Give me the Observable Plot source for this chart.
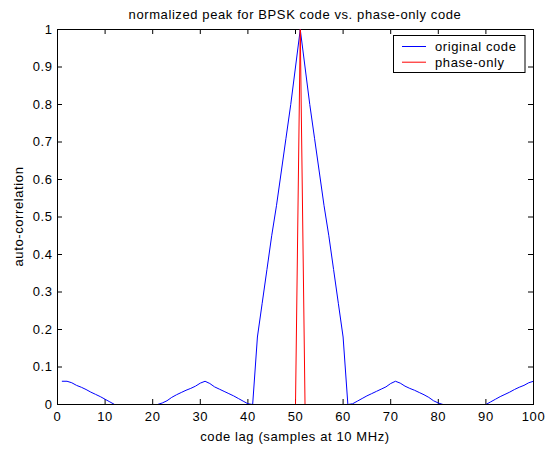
<!DOCTYPE html>
<html>
<head>
<meta charset="utf-8">
<script src="https://cdn.jsdelivr.net/npm/d3@7"></script>
<script src="https://cdn.jsdelivr.net/npm/@observablehq/plot@0.6"></script>
<style>
  html, body { margin: 0; padding: 0; background: #fff; }
  svg { display: block; }
</style>
</head>
<body>
<div id="chart"></div>
<script>
// ---- data ----
const lags = [
  1, 2, 3, 4, 5, 6, 7, 8, 9, 10,
  11, 12, 13, 14, 15, 16, 17, 18, 19, 20,
  21, 22, 23, 24, 25, 26, 27, 28, 29, 30,
  31, 32, 33, 34, 35, 36, 37, 38, 39, 40,
  41, 42, 43, 44, 45, 46, 47, 48, 49, 50,
  51, 52, 53, 54, 55, 56, 57, 58, 59, 60,
  61, 62, 63, 64, 65, 66, 67, 68, 69, 70,
  71, 72, 73, 74, 75, 76, 77, 78, 79, 80,
  81, 82, 83, 84, 85, 86, 87, 88, 89, 90,
  91, 92, 93, 94, 95, 96, 97, 98, 99, 100,
  101
];
const originalCode = [
  0.062, 0.062, 0.058, 0.051, 0.046, 0.040, 0.033, 0.027, 0.021, 0.014,
  0.007, 0, 0, 0, 0, 0, 0, 0, 0, 0,
  0, 0.004, 0.010, 0.019, 0.026, 0.032, 0.038, 0.043, 0.049, 0.057,
  0.062, 0.056, 0.047, 0.041, 0.035, 0.029, 0.023, 0.016, 0.009, 0.002,
  0, 0.18, 0.27, 0.36, 0.45, 0.53, 0.62, 0.71, 0.80, 0.90,
  1.00, 0.90, 0.80, 0.71, 0.62, 0.53, 0.45, 0.36, 0.27, 0.18,
  0, 0.002, 0.009, 0.016, 0.023, 0.029, 0.035, 0.041, 0.047, 0.056,
  0.062, 0.057, 0.049, 0.043, 0.038, 0.032, 0.026, 0.019, 0.010, 0.004,
  0, 0, 0, 0, 0, 0, 0, 0, 0, 0,
  0.007, 0.014, 0.021, 0.027, 0.033, 0.040, 0.046, 0.051, 0.058, 0.062,
  0.062
];
const phaseOnly = [
  0, 0, 0, 0, 0, 0, 0, 0, 0, 0,
  0, 0, 0, 0, 0, 0, 0, 0, 0, 0,
  0, 0, 0, 0, 0, 0, 0, 0, 0, 0,
  0, 0, 0, 0, 0, 0, 0, 0, 0, 0,
  0, 0, 0, 0, 0, 0, 0, 0, 0, 0,
  1, 0, 0, 0, 0, 0, 0, 0, 0, 0,
  0, 0, 0, 0, 0, 0, 0, 0, 0, 0,
  0, 0, 0, 0, 0, 0, 0, 0, 0, 0,
  0, 0, 0, 0, 0, 0, 0, 0, 0, 0,
  0, 0, 0, 0, 0, 0, 0, 0, 0, 0,
  0
];
const seriesNames = ["original code", "phase-only"];
const seriesColors = ["#0000ff", "#ff0000"];
const xTicks = [0, 10, 20, 30, 40, 50, 60, 70, 80, 90, 100];
const xTickLabels = ["0", "10", "20", "30", "40", "50", "60", "70", "80", "90", "100"];
const yTicks = [0, 0.1, 0.2, 0.3, 0.4, 0.5, 0.6, 0.7, 0.8, 0.9, 1];
const yTickLabels = ["0", "0.1", "0.2", "0.3", "0.4", "0.5", "0.6", "0.7", "0.8", "0.9", "1"];
const titleText = "normalized peak for BPSK code vs. phase-only code";
const xLabelText = "code lag (samples at 10 MHz)";
const yLabelText = "auto-correlation";

// ---- layout ----
const W = 548, H = 449;
const mL = 57, mR = 15, mT = 29, mB = 45;
const fw = W - mL - mR, fh = H - mT - mB;
const tickLen = 5;
const FONT = "'Liberation Sans', Arial, Helvetica, sans-serif";
const FS = "13px";
const LS = "0.6px";

const rows = lags.map((x, i) => ({x, orig: originalCode[i], phase: phaseOnly[i]}));

const chart = Plot.plot({
  width: W,
  height: H,
  marginLeft: mL,
  marginRight: mR,
  marginTop: mT,
  marginBottom: mB,
  style: {fontFamily: FONT, fontSize: FS, letterSpacing: LS, color: "#000", background: "#fff", overflow: "visible"},
  x: {domain: [0, 100], label: null},
  y: {domain: [0, 1], label: null},
  marks: [
    Plot.axisX(xTicks, {tickSize: 0, tickPadding: 7.5, tickFormat: (d) => xTickLabels[xTicks.indexOf(d)], fontSize: 13}),
    Plot.axisY(yTicks, {tickSize: 0, tickPadding: 5, tickFormat: (d) => yTickLabels[yTicks.indexOf(d)], fontSize: 13}),
    // inward MATLAB-style ticks on all four sides
    Plot.tickX(xTicks, {x: (d) => d, insetTop: fh - tickLen, stroke: "#000", strokeWidth: 1}),
    Plot.tickX(xTicks, {x: (d) => d, insetBottom: fh - tickLen, stroke: "#000", strokeWidth: 1}),
    Plot.tickY(yTicks, {y: (d) => d, insetRight: fw - tickLen, stroke: "#000", strokeWidth: 1}),
    Plot.tickY(yTicks, {y: (d) => d, insetLeft: fw - tickLen, stroke: "#000", strokeWidth: 1}),
    Plot.frame({stroke: "#000", strokeWidth: 1}),
    Plot.line(rows, {x: "x", y: "orig", stroke: seriesColors[0], strokeWidth: 1, clip: true}),
    Plot.line(rows, {x: "x", y: "phase", stroke: seriesColors[1], strokeWidth: 1, clip: true})
  ]
});

document.getElementById("chart").appendChild(chart);

// ---- annotations: title, axis labels, legend ----
const svg = d3.select(chart);
const cx = mL + fw / 2;

function addText(sel) {
  return sel.append("text")
    .style("font-family", FONT).style("font-size", FS).style("letter-spacing", LS)
    .attr("fill", "#000");
}

addText(svg)
  .attr("x", cx).attr("y", 19)
  .attr("text-anchor", "middle")
  .text(titleText);

addText(svg)
  .attr("x", cx).attr("y", 441)
  .attr("text-anchor", "middle")
  .text(xLabelText);

addText(svg)
  .attr("transform", `translate(23,${mT + fh / 2}) rotate(-90)`)
  .attr("text-anchor", "middle")
  .text(yLabelText);

const lg = svg.append("g");
lg.append("rect")
  .attr("x", 393.5).attr("y", 35.5).attr("width", 131.5).attr("height", 37)
  .attr("fill", "#fff").attr("stroke", "#000").attr("stroke-width", 1);
seriesNames.forEach((name, i) => {
  const yy = 46.5 + i * 15.7;
  lg.append("line")
    .attr("x1", 402).attr("x2", 426).attr("y1", yy).attr("y2", yy)
    .attr("stroke", seriesColors[i]).attr("stroke-width", 1);
  addText(lg)
    .attr("x", 435).attr("y", yy + 4.5)
    .attr("text-anchor", "start")
    .text(name);
});
</script>
</body>
</html>
